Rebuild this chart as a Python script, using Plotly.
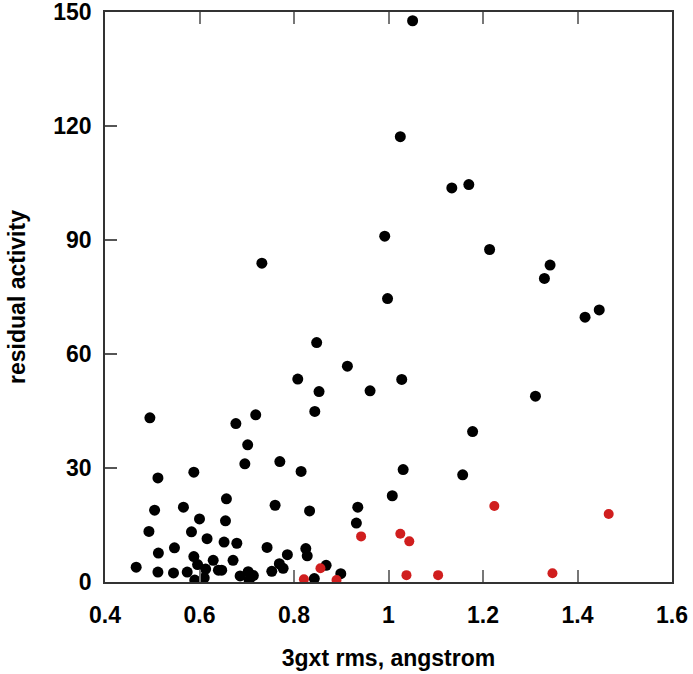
import plotly.graph_objects as go

# black series
black_x = [1.051, 1.025, 1.134, 1.170, 1.214, 0.992, 1.342, 1.330, 1.446, 1.416,
           0.998, 1.028, 1.311, 0.732, 0.848, 0.913, 0.808, 0.495, 0.719, 0.677,
           0.702, 0.696, 0.770, 0.512, 0.588, 0.657, 0.760, 0.505, 0.566, 0.600,
           0.655, 0.493, 0.583, 0.616, 0.652, 0.679, 0.743, 0.513, 0.547, 0.786,
           0.588, 0.596, 0.629, 0.671, 0.769, 0.777, 0.466, 0.512, 0.545, 0.574,
           0.613, 0.640, 0.647, 0.590, 0.610, 0.686, 0.703, 0.705, 0.714, 0.753,
           0.853, 0.961, 0.844, 1.178, 0.815, 1.031, 1.157, 1.008, 0.833, 0.935,
           0.932, 0.825, 0.828, 0.868, 0.843, 0.899]
black_y = [147.7, 117.2, 103.7, 104.6, 87.5, 91.0, 83.4, 79.9, 71.6, 69.7,
           74.6, 53.3, 48.9, 83.9, 63.0, 56.8, 53.4, 43.2, 44.0, 41.7,
           36.1, 31.1, 31.7, 27.4, 28.9, 21.9, 20.2, 18.9, 19.7, 16.6,
           16.1, 13.3, 13.2, 11.4, 10.5, 10.2, 9.1, 7.6, 9.0, 7.2,
           6.7, 4.6, 5.7, 5.7, 4.8, 3.6, 3.9, 2.6, 2.4, 2.6,
           3.4, 3.1, 3.1, 0.5, 1.1, 1.6, 2.7, 0.5, 1.7, 2.8,
           50.1, 50.3, 44.9, 39.6, 29.1, 29.6, 28.2, 22.7, 18.7, 19.7,
           15.5, 8.8, 6.9, 4.4, 0.9, 2.2]

# red series
red_x = [0.942, 1.025, 1.044, 0.856, 0.821, 0.890, 1.038, 1.105, 1.224, 1.466, 1.347]
red_y = [12.0, 12.7, 10.7, 3.6, 0.7, 0.5, 1.8, 1.8, 20.0, 17.9, 2.3]

x_ticks = [0.4, 0.6, 0.8, 1.0, 1.2, 1.4, 1.6]
x_labels = ["0.4", "0.6", "0.8", "1", "1.2", "1.4", "1.6"]
y_ticks = [0, 30, 60, 90, 120, 150]

FONT = dict(family="Liberation Sans, Arial, sans-serif", size=23, color="black", weight="bold")

fig = go.Figure()
fig.add_trace(go.Scatter(x=black_x, y=black_y, mode="markers",
                         marker=dict(color="black", size=11, line=dict(width=0)),
                         showlegend=False))
fig.add_trace(go.Scatter(x=red_x, y=red_y, mode="markers",
                         marker=dict(color="#d01e1e", size=10, line=dict(width=0)),
                         showlegend=False))

fig.update_layout(
    width=693, height=674,
    margin=dict(l=105, r=21, t=12, b=92),
    paper_bgcolor="white", plot_bgcolor="white",
    font=FONT,
)
fig.update_xaxes(range=[0.4, 1.6], tickvals=x_ticks, ticktext=x_labels,
                 ticks="inside", ticklen=12, tickcolor="#777", tickwidth=1.5,
                 showline=True, linecolor="#333", linewidth=1.5, mirror="ticks",
                 showgrid=False, zeroline=False, tickfont=FONT, automargin=False,
                 ticklabelstandoff=12, ticklabeloverflow="allow",
                 title=dict(text="3gxt rms, angstrom", font=FONT, standoff=23))
fig.update_yaxes(range=[0, 150], tickvals=y_ticks,
                 ticks="inside", ticklen=12, tickcolor="#555", tickwidth=1.5,
                 showline=True, linecolor="#333", linewidth=1.5, mirror=True,
                 showgrid=False, zeroline=False, tickfont=FONT, automargin=False,
                 ticklabelstandoff=7, ticklabeloverflow="allow",
                 title=dict(text="residual activity", font=FONT, standoff=21))

# remove the default page margin so the figure sits at the window's top-left corner
fig.write_html("out.html",
               config={"displayModeBar": False},
               post_script="document.body.style.margin='0px';document.body.style.overflow='hidden';")
